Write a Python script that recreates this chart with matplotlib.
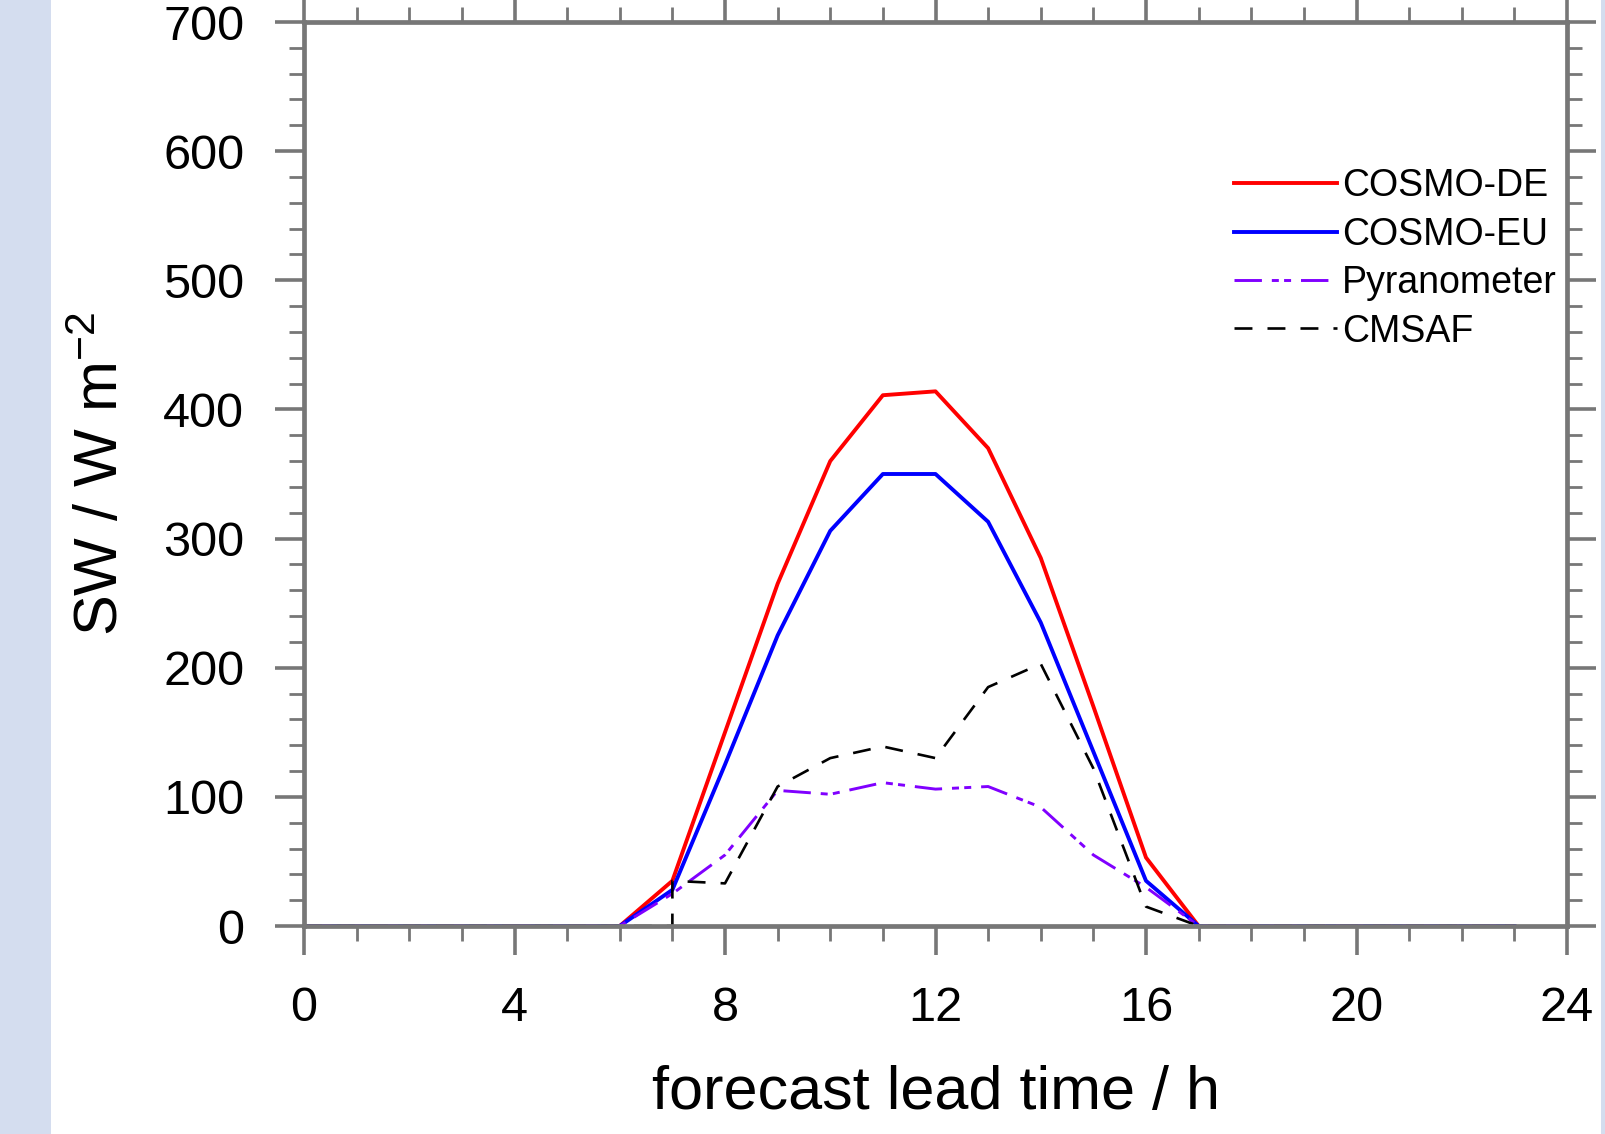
import numpy as np
import matplotlib
matplotlib.use("Agg")
import matplotlib.pyplot as plt
from matplotlib.patches import Rectangle

plt.rcParams['font.family'] = ['Liberation Sans', 'DejaVu Sans']
plt.rcParams['mathtext.fontset'] = 'custom'
plt.rcParams['mathtext.rm'] = 'Liberation Sans'
plt.rcParams['mathtext.it'] = 'Liberation Sans'

# ---- data (hourly) ----
hours = list(range(24))
cosmo_de = [0, 0, 0, 0, 0, 0, 0, 35, 150, 265, 360, 411, 414, 370, 285, 170, 53, 0,
            0, 0, 0, 0, 0, 0]
cosmo_eu = [0, 0, 0, 0, 0, 0, 0, 28, 125, 225, 306, 350, 350, 313, 235, 135, 35, 0,
            0, 0, 0, 0, 0, 0]
pyrano = [0, 0, 0, 0, 0, 0, 0, 25, 55, 105, 102, 111, 106, 108, 92, 55, 30, 0,
          0, 0, 0, 0, 0, 0]
# CMSAF has a jump at 7 h (two samples at the same hour)
cmsaf_hours = [0, 1, 2, 3, 4, 5, 6, 7, 7, 8, 9, 10, 11, 12, 13, 14, 15, 16, 17,
               18, 19, 20, 21, 22, 23]
cmsaf = [0, 0, 0, 0, 0, 0, 0, 0, 35, 33, 108, 130, 139, 130, 185, 203, 122, 15, 0,
         0, 0, 0, 0, 0, 0]

W, H = 1605, 1134
fig = plt.figure(figsize=(W / 100, H / 100), dpi=100)
fig.patch.set_facecolor('white')
# light blue side strips
fig.patches.append(Rectangle((0, 0), 51 / W, 1, transform=fig.transFigure,
                             facecolor='#d4ddef', edgecolor='none', zorder=0))
fig.patches.append(Rectangle((1601 / W, 0), 4 / W, 1, transform=fig.transFigure,
                             facecolor='#d4ddef', edgecolor='none', zorder=0))

left, right, bottom, top = 304, 1567, 926, 22
ax = fig.add_axes([left / W, (H - bottom) / H, (right - left) / W, (bottom - top) / H])

ax.plot(hours, cosmo_de, color='#ff0000', lw=2.8, label='COSMO-DE')
ax.plot(hours, cosmo_eu, color='#0000ff', lw=2.8, label='COSMO-EU')
ax.plot(hours, pyrano, color='#8000ff', lw=2.1,
        linestyle=(0, (9.4, 3.4, 2.4, 1.8, 2.4, 3.4)), label='Pyranometer')
ax.plot(cmsaf_hours, cmsaf, color='black', lw=1.9,
        linestyle=(0, (6.8, 5.7)), label='CMSAF')

ax.set_xlim(0, 24)
ax.set_ylim(0, 700)
ax.set_xticks(np.arange(0, 25, 4))
ax.set_xticks(np.arange(0, 25, 1), minor=True)
ax.set_yticks(np.arange(0, 701, 100))
ax.set_yticks(np.arange(0, 701, 20), minor=True)

gray = '#777777'
for sp in ax.spines.values():
    sp.set_color(gray)
    sp.set_linewidth(3.4)

ax.tick_params(which='both', direction='out', top=True, right=True, colors=gray,
               labelcolor='black')
ax.tick_params(which='major', length=21, width=2.6, labelsize=35, pad=22)
ax.tick_params(which='minor', length=11, width=2.0)

ax.set_xlabel('forecast lead time / h', fontsize=44)
ax.xaxis.set_label_coords(0.5, -0.185)
ax.xaxis.label.set_va('center')
ax.set_ylabel('SW / W m$^{-2}$', fontsize=44)
ax.yaxis.set_label_coords(-0.16, 0.5)
ax.yaxis.label.set_va('center')

ax.legend(loc='upper left', bbox_to_anchor=(0.736, 0.838), frameon=False,
          fontsize=27, handlelength=2.75, handletextpad=0.15, labelspacing=0.33,
          borderpad=0, borderaxespad=0)

fig.savefig('out.png', dpi=100)
